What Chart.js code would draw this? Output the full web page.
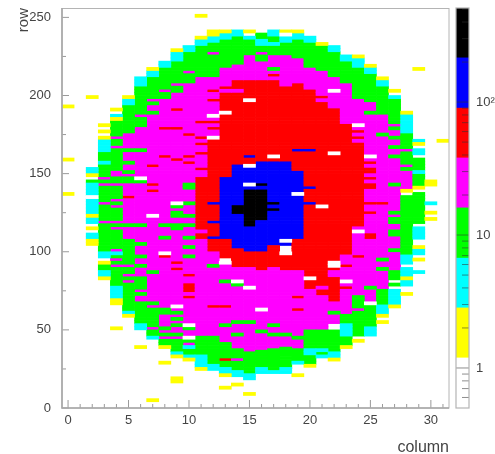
<!DOCTYPE html>
<html><head><meta charset="utf-8">
<script src="https://cdn.jsdelivr.net/npm/chart.js@4/dist/chart.umd.min.js"></script>
<style>
html,body{margin:0;padding:0;background:#fff;width:495px;height:454px;overflow:hidden}
canvas{position:absolute;left:0;top:0;filter:blur(0.35px)}
</style></head><body>
<canvas id="map" width="495" height="454"></canvas>
<canvas id="bar" width="495" height="454"></canvas>
<script>
// Each column: [fromRow, toRow, count]; later runs overwrite earlier ones. 0 = empty/white.
const column00=[[192,194,2],[158,160,2],[136,138,2]];
const column01=[];
const column02=[[198,200,2],[152,154,4],[150,152,4],[148,150,2],[144,146,10],[124,144,4],[134,136,0],[122,124,2],[118,122,4],[114,116,2],[108,112,4],[106,108,2],[104,106,2]];
const column03=[[180,182,2],[176,178,2],[172,174,2],[164,172,4],[158,164,10],[156,158,4],[100,156,10],[96,100,4],[92,94,2],[88,92,10],[84,88,4],[82,84,2],[146,148,25],[142,144,25],[130,132,25],[118,120,25]];
const column04=[[190,192,2],[186,188,4],[184,186,2],[78,184,10],[70,78,4],[68,70,2],[66,68,2],[50,52,2],[172,174,25],[150,152,25],[142,144,25],[148,150,25],[128,130,25],[132,134,25],[118,120,25],[114,116,25],[100,102,25],[98,100,4],[94,96,25],[90,92,25],[166,168,25]];
const column05=[[198,200,2],[194,198,4],[176,194,10],[118,176,25],[116,118,10],[108,116,25],[62,108,10],[60,62,4],[58,60,2],[164,166,10],[156,158,10],[150,152,10],[144,146,10],[146,148,10],[134,136,60],[90,92,25],[84,86,25],[80,82,25],[170,172,25]];
const column06=[[206,212,4],[180,206,10],[68,180,25],[186,188,25],[164,166,10],[146,148,0],[144,146,10],[96,98,10],[90,92,10],[82,84,10],[76,82,10],[72,74,10],[56,68,10],[50,54,4],[54,56,10],[38,40,2],[104,106,10],[116,118,10]];
const column07=[[216,218,2],[212,216,4],[198,212,10],[190,198,25],[194,196,10],[62,190,25],[154,156,60],[142,144,60],[138,140,60],[122,124,0],[86,88,10],[66,68,10],[60,64,10],[46,60,10],[44,46,4],[4,6,2],[188,190,10],[50,52,25]];
const column08=[[218,222,4],[206,218,10],[198,206,10],[202,204,25],[52,198,25],[178,180,60],[160,162,60],[116,118,10],[108,110,10],[98,100,0],[96,98,60],[60,64,10],[40,52,10],[44,46,25],[38,40,2],[28,30,2],[48,50,25]];
const column09=[[228,230,2],[222,228,4],[202,222,10],[206,208,25],[48,202,25],[190,192,60],[178,180,60],[158,160,60],[130,132,0],[128,130,10],[122,126,10],[114,118,10],[92,94,60],[88,90,60],[64,66,0],[60,62,10],[56,58,10],[52,54,10],[36,48,10],[44,46,25],[34,36,4],[32,34,2],[18,20,2],[16,18,2]];
const column10=[[228,232,4],[208,228,10],[214,216,25],[44,208,25],[208,210,10],[174,176,60],[160,162,60],[156,158,60],[142,144,10],[140,142,10],[130,132,10],[122,124,10],[116,118,10],[108,110,10],[102,104,10],[96,98,10],[84,86,60],[78,80,60],[76,78,60],[74,76,60],[70,72,60],[52,54,0],[50,52,10],[44,46,0],[34,44,10],[40,42,25],[38,40,4],[32,34,4],[30,32,2]];
const column11=[[250,252,2],[236,238,2],[232,236,4],[212,232,10],[104,212,25],[182,184,60],[172,174,60],[168,170,60],[162,164,60],[116,148,60],[108,116,60],[112,114,25],[94,96,10],[88,92,0],[76,78,60],[68,70,60],[64,66,0],[60,62,10],[46,104,25],[34,46,10],[26,34,4],[24,26,2],[98,100,25],[152,154,60]];
const column12=[[238,242,2],[234,238,4],[212,234,10],[226,228,25],[204,212,25],[196,204,25],[202,204,60],[196,198,60],[192,194,60],[188,190,60],[172,196,25],[186,188,0],[172,174,0],[100,172,60],[178,180,60],[182,184,60],[130,132,140],[118,120,140],[108,110,140],[56,100,25],[90,92,10],[64,66,60],[50,52,10],[46,56,25],[28,46,10],[24,28,4],[172,174,0]];
const column13=[[240,242,2],[236,240,4],[218,236,10],[206,218,25],[198,206,60],[202,204,25],[150,198,60],[188,190,0],[108,148,140],[148,150,60],[96,108,60],[92,94,0],[42,92,25],[80,82,10],[64,66,60],[26,42,10],[30,32,60],[22,26,4],[20,22,2],[12,14,2],[52,54,10]];
const column14=[[238,242,4],[220,238,10],[210,220,25],[156,210,60],[202,204,25],[102,156,140],[128,130,330],[124,127,330],[90,102,60],[24,90,25],[80,82,0],[78,80,10],[54,56,10],[46,48,10],[24,38,10],[30,32,25],[20,24,4],[14,16,2]];
const column15=[[240,242,2],[226,238,10],[236,238,4],[210,226,25],[156,210,60],[196,198,0],[160,162,140],[100,156,140],[154,156,0],[142,144,0],[116,140,330],[90,100,60],[30,90,25],[76,78,0],[22,36,10],[18,22,4],[8,10,2],[54,56,10]];
const column16=[[236,240,10],[232,236,4],[222,232,10],[226,228,25],[210,222,25],[158,210,60],[100,158,140],[120,140,330],[142,144,330],[88,100,60],[28,88,25],[62,64,0],[48,50,10],[25,37,10],[22,25,4]];
const column17=[[238,242,4],[234,238,10],[232,234,4],[226,232,10],[210,226,25],[216,218,10],[156,210,60],[212,214,60],[160,162,0],[104,158,140],[130,132,330],[126,128,330],[90,104,60],[38,90,25],[52,54,10],[46,48,10],[24,38,10],[22,24,4]];
const column18=[[240,242,2],[238,240,0],[234,238,4],[226,234,10],[206,226,25],[158,206,60],[104,158,140],[106,108,0],[98,100,0],[88,98,60],[38,88,25],[46,48,10],[25,38,10],[22,25,4]];
const column19=[[240,242,2],[236,240,4],[224,236,10],[208,224,25],[148,208,60],[164,166,140],[108,152,140],[136,138,0],[88,108,60],[44,88,25],[44,46,10],[38,44,25],[30,38,10],[28,30,4],[20,22,2],[62,64,60],[70,72,60]];
const column20=[[234,238,4],[218,234,10],[204,218,25],[76,204,60],[164,166,140],[140,142,140],[130,132,140],[82,84,0],[50,76,25],[38,50,10],[34,38,4],[28,34,10],[26,28,2]];
const column21=[[232,234,2],[216,232,10],[196,216,25],[198,200,60],[72,196,60],[128,130,0],[50,72,25],[34,50,10],[36,38,4],[32,34,4],[76,78,25]];
const column22=[[228,232,4],[212,228,10],[192,212,25],[202,204,0],[68,192,60],[162,164,0],[90,94,0],[84,88,25],[60,68,25],[60,62,10],[54,60,25],[34,50,10],[32,36,4],[30,32,2]];
const column23=[[222,226,4],[208,222,10],[182,208,25],[98,182,60],[56,98,25],[90,92,60],[80,82,0],[76,78,60],[54,60,10],[46,54,4],[40,46,10],[38,40,2]];
const column24=[[224,226,2],[218,224,4],[198,218,10],[114,198,25],[180,182,0],[176,178,60],[172,174,60],[116,170,60],[112,114,0],[72,112,25],[96,98,60],[52,72,10],[62,64,25],[46,52,10],[42,44,2]];
const column25=[[218,220,2],[214,218,4],[196,214,10],[112,196,25],[188,190,10],[160,162,0],[156,158,60],[150,154,60],[146,148,60],[140,144,60],[130,132,60],[124,126,60],[108,112,60],[74,108,25],[76,78,10],[68,74,25],[66,68,0],[52,66,10],[46,52,4]];
const column26=[[210,212,2],[206,210,4],[188,206,10],[76,188,25],[174,176,10],[130,132,60],[94,96,10],[88,90,10],[66,76,10],[62,66,4],[60,62,4],[58,60,2],[54,56,2]];
const column27=[[202,204,2],[198,200,4],[182,198,10],[88,182,25],[178,180,10],[172,174,10],[166,168,10],[160,162,10],[142,144,10],[124,126,10],[118,122,10],[110,114,10],[100,102,10],[82,88,10],[78,80,10],[66,76,4],[64,66,2]];
const column28=[[188,190,2],[176,188,4],[156,176,10],[140,156,25],[138,140,2],[98,136,10],[92,98,4],[84,90,4],[82,84,2],[78,82,4],[72,74,2],[164,166,25],[152,154,10]];
const column29=[[216,218,2],[170,172,4],[168,170,2],[162,166,4],[152,160,10],[150,152,4],[142,150,10],[140,142,2],[118,138,10],[108,116,4],[102,104,2],[98,102,4],[94,96,2],[86,88,4]];
const column30=[[144,146,2],[142,144,2],[130,132,4],[124,126,2],[120,122,2]];
const column31=[[170,172,2]];
const columns=[column00,column01,column02,column03,column04,column05,column06,column07,column08,column09,column10,column11,column12,column13,column14,column15,column16,column17,column18,column19,column20,column21,column22,column23,column24,column25,column26,column27,column28,column29,column30,column31];

const rowBin=2;
const zEdges=[0.5,1.19,2.83,6.7,16,38,90,215,510];
const bandColors=['#ffffff','#ffff00','#00ffff','#00ff00','#ff00ff','#ff0000','#0000ff','#000000'];
const xTickLabels=[0,5,10,15,20,25,30];
const xMinorTicks=[1,2,3,4,6,7,8,9,11,12,13,14,16,17,18,19,21,22,23,24,26,27,28,29,31];
const yTickLabels=[0,50,100,150,200,250];
const yMinorTicks=[25,75,125,175,225];
const zTickLabels=[1,10,100];
const zMinorTicks=[0.6,0.7,0.8,0.9,2,3,4,5,6,7,8,9,20,30,40,50,60,70,80,90,200,300,400,500];

const bandOf=v=>{let i=0;while(i<7&&v>=zEdges[i+1])i++;return i;};
const bandCells=bandColors.map(()=>[]);
columns.forEach((runs,col)=>{
  const cells=new Map();
  runs.forEach(([a,b,v])=>{for(let r=a;r<b;r+=rowBin)cells.set(r,v);});
  cells.forEach((v,r)=>bandCells[bandOf(v)].push({x:col,y:[r,r+rowBin]}));
});

Chart.defaults.font.family='"Liberation Sans",Arial,sans-serif';
const edge='#b4b4b4', tickCol='#9a9a9a', textCol='#444444';
const noPad=s=>{s.paddingTop=0;s.paddingBottom=0;s.paddingLeft=0;s.paddingRight=0;};

const mapFrame={id:'mapFrame',afterDatasetsDraw(c){
  const {ctx,chartArea:a,scales:{x,y}}=c;ctx.save();
  ctx.strokeStyle=tickCol;ctx.lineWidth=1;ctx.beginPath();
  xTickLabels.forEach(v=>{const p=x.getPixelForValue(v);ctx.moveTo(p,a.bottom);ctx.lineTo(p,a.bottom-8);});
  xMinorTicks.forEach(v=>{const p=x.getPixelForValue(v);ctx.moveTo(p,a.bottom);ctx.lineTo(p,a.bottom-4);});
  yTickLabels.forEach(v=>{const p=y.getPixelForValue(v);ctx.moveTo(a.left,p);ctx.lineTo(a.left+7,p);});
  yMinorTicks.forEach(v=>{const p=y.getPixelForValue(v);ctx.moveTo(a.left,p);ctx.lineTo(a.left+4,p);});
  ctx.stroke();
  ctx.strokeStyle=edge;ctx.lineWidth=1;ctx.strokeRect(a.left,a.top+.5,a.right-a.left,a.bottom-a.top-.5);
  ctx.strokeStyle='#a8a8a8';ctx.lineWidth=1.6;ctx.beginPath();
  ctx.moveTo(a.left,a.top);ctx.lineTo(a.left,a.bottom);ctx.lineTo(a.right,a.bottom);ctx.stroke();
  ctx.restore();
}};
const barFrame={id:'barFrame',afterDatasetsDraw(c){
  const {ctx,chartArea:a,scales:{y}}=c;ctx.save();
  ctx.strokeStyle='rgba(50,50,50,.55)';ctx.lineWidth=1;ctx.beginPath();
  zTickLabels.forEach(v=>{const p=y.getPixelForValue(v);ctx.moveTo(a.right,p);ctx.lineTo(a.left,p);});
  zMinorTicks.forEach(v=>{const p=y.getPixelForValue(v);ctx.moveTo(a.right,p);ctx.lineTo(a.right-7,p);});
  ctx.stroke();
  ctx.strokeStyle=edge;ctx.lineWidth=1.2;ctx.strokeRect(a.left,a.top,a.right-a.left,a.bottom-a.top);
  ctx.restore();
}};

new Chart(document.getElementById('map'),{
  type:'bar',
  data:{datasets:bandColors.map((color,i)=>({data:bandCells[i],backgroundColor:color,borderWidth:0,grouped:false,barPercentage:1,categoryPercentage:1}))},
  options:{responsive:false,animation:false,events:[],
    layout:{autoPadding:false,padding:{top:8,right:46,left:0,bottom:0}},
    plugins:{legend:{display:false},tooltip:{enabled:false},title:{display:false},subtitle:{display:false}},
    scales:{
      x:{type:'linear',offset:false,min:-0.5,max:31.5,
        afterBuildTicks:s=>{s.ticks=xTickLabels.map(value=>({value}));},
        afterFit:s=>{s.height=46;noPad(s);},
        grid:{display:false,drawTicks:false},border:{display:false},
        ticks:{autoSkip:false,maxRotation:0,padding:5,color:textCol,font:{size:13}},
        title:{display:true,text:'column',align:'end',color:textCol,font:{size:16},padding:{top:0,bottom:-3}}},
      y:{type:'linear',min:0,max:256,
        afterBuildTicks:s=>{s.ticks=yTickLabels.map(value=>({value}));},
        afterFit:s=>{s.width=62;noPad(s);},
        grid:{display:false,drawTicks:false},border:{display:false},
        ticks:{autoSkip:false,padding:11,color:textCol,font:{size:13}},
        title:{display:true,text:'row',align:'end',color:textCol,font:{size:15},padding:{top:15,bottom:0}}}
    }},
  plugins:[mapFrame]
});

new Chart(document.getElementById('bar'),{
  type:'bar',
  data:{labels:['z'],datasets:bandColors.map((color,i)=>({data:[[zEdges[i],zEdges[i+1]]],backgroundColor:color,borderWidth:0,grouped:false,barPercentage:1,categoryPercentage:1}))},
  options:{responsive:false,animation:false,events:[],
    layout:{autoPadding:false,padding:{top:8,left:456,right:0,bottom:46}},
    plugins:{legend:{display:false},tooltip:{enabled:false}},
    scales:{
      x:{display:false},
      y:{type:'logarithmic',position:'right',min:0.5,max:510,
        afterBuildTicks:s=>{s.ticks=zTickLabels.map(value=>({value}));},
        afterFit:s=>{s.width=26;noPad(s);},
        grid:{display:false,drawTicks:false},border:{display:false},
        ticks:{autoSkip:false,padding:7,color:textCol,font:{size:13},
          callback:v=>v===100?'10²':String(v)}}
    }},
  plugins:[barFrame]
});
</script>
</body></html>
